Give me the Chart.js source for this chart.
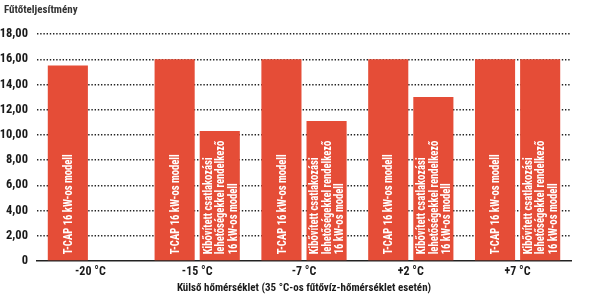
<!DOCTYPE html>
<html>
<head>
<meta charset="utf-8">
<script src="https://cdn.jsdelivr.net/npm/chart.js@4/dist/chart.umd.min.js"></script>
<style>
  html, body { margin: 0; padding: 0; background: #fff; }
  #wrap { width: 589px; height: 299px; }
</style>
</head>
<body>
<div id="wrap"><canvas id="chart"></canvas></div>
<script>
const categories = ['-20 °C', '-15 °C', '-7 °C', '+2 °C', '+7 °C'];
const tcapValues = [15.5, 16, 16, 16, 16];
const extendedValues = [null, 10.3, 11.1, 13.0, 16];
const tcapLabel = ['T-CAP 16 kW-os modell'];
const extendedLabel = ['Kibővített csatlakozási', 'lehetőségekkel rendelkező', '16 kW-os modell'];
const yTitle = 'Fűtőteljesítmény';
const xTitle = 'Külső hőmérséklet (35 °C-os fűtővíz-hőmérséklet esetén)';

const FONT = "'Roboto Condensed', 'Liberation Sans Narrow', sans-serif";
const barColor = '#e54d37';

// white rotated captions inside the bars, squeezed a bit like the original
const barText = {
  id: 'barText',
  afterDatasetsDraw(chart) {
    const ctx = chart.ctx;
    ctx.save();
    ctx.fillStyle = '#fff';
    ctx.font = 'bold 13px ' + FONT;
    ctx.textAlign = 'left';
    ctx.textBaseline = 'middle';
    const squeeze = 100 / ctx.measureText(tcapLabel[0]).width;
    chart.data.datasets.forEach((ds, di) => {
      const meta = chart.getDatasetMeta(di);
      meta.data.forEach((bar, i) => {
        if (ds.data[i] == null) return;
        const lines = ds.textLines;
        const lh = 12.5;
        ctx.save();
        ctx.translate(bar.x, bar.base - 6);
        ctx.rotate(-Math.PI / 2);
        ctx.scale(squeeze, 1);
        lines.forEach((t, k) => {
          ctx.fillText(t, 0, (k - (lines.length - 1) / 2) * lh + 1);
        });
        ctx.restore();
      });
    });
    ctx.restore();
  }
};

const topTitle = {
  id: 'topTitle',
  afterDraw(chart) {
    const ctx = chart.ctx;
    ctx.save();
    ctx.fillStyle = '#333';
    ctx.font = 'bold 11px ' + FONT;
    ctx.textBaseline = 'middle';
    ctx.fillText(yTitle, 4, 10);
    ctx.restore();
  }
};

new Chart(document.getElementById('chart'), {
  type: 'bar',
  data: {
    labels: categories,
    datasets: [
      { label: 'T-CAP', data: tcapValues, backgroundColor: barColor, textLines: tcapLabel },
      { label: 'Kibővített', data: extendedValues, backgroundColor: barColor, textLines: extendedLabel }
    ]
  },
  options: {
    responsive: true,
    maintainAspectRatio: false,
    animation: false,
    categoryPercentage: 0.845,
    barPercentage: 0.889,
    layout: { padding: { top: 34, left: 0, right: 18, bottom: 4 } },
    plugins: { legend: { display: false }, tooltip: { enabled: false } },
    scales: {
      x: {
        grid: { display: false, drawTicks: false },
        border: { display: true, color: '#222', width: 1.5 },
        ticks: { color: '#1a1a1a', font: { family: FONT, size: 12, weight: 'bold' }, padding: 4 },
        title: { display: true, text: xTitle, color: '#1a1a1a', font: { family: FONT, size: 11, weight: 'bold' }, padding: 0 },
        afterFit(scale) { scale.height = 34; }
      },
      y: {
        min: 0,
        max: 18,
        grid: {
          drawTicks: false,
          color: c => (c.tick && c.tick.value === 0) ? 'rgba(0,0,0,0)' : '#222',
          lineWidth: 1.4
        },
        border: { display: false, dash: [1.4, 1.8] },
        ticks: {
          stepSize: 2,
          padding: 9,
          color: '#1a1a1a',
          font: { family: FONT, size: 12.5, weight: 'bold' },
          callback: v => v === 0 ? '0' : v.toFixed(2).replace('.', ',')
        },
        afterFit(scale) { scale.width = 37; }
      }
    }
  },
  plugins: [barText, topTitle]
});
</script>
</body>
</html>
